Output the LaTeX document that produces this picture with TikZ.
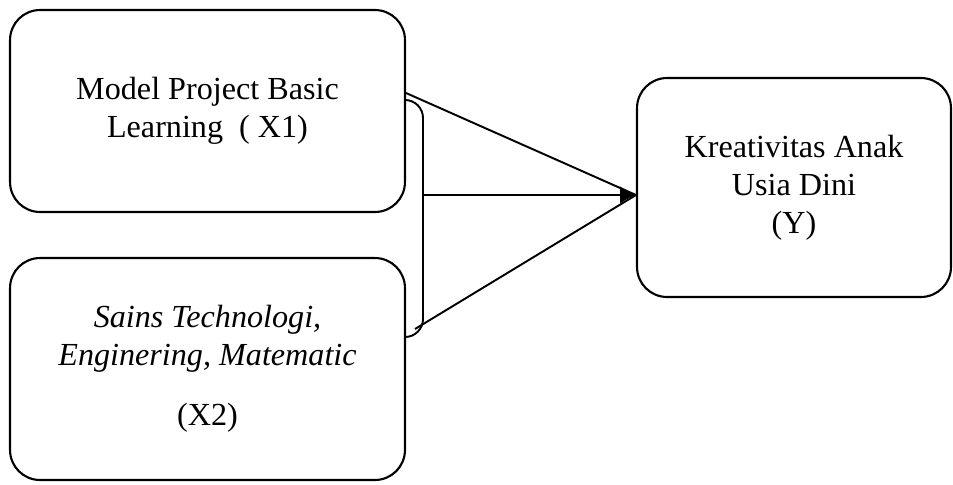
\documentclass[tikz,border=0pt]{standalone}
\usepackage{fontspec}
\setmainfont{Liberation Serif}
\usetikzlibrary{calc,arrows.meta}
\tikzset{
  var/.style={draw, line width=1.2pt, rounded corners=0.6cm, align=center,
    font=\fontsize{18.3}{21.5}\selectfont},
  link/.style={line width=1.1pt},
}

\begin{document}
\begin{tikzpicture}[x=0.02cm,y=-0.02cm]
  \useasboundingbox (0,0) rectangle (953,484);

  \node[var, minimum width=7.9cm, minimum height=4.04cm] (x1) at (207.5,111)
    {Model Project Basic\\Learning \ ( X1)};
  \node[var, minimum width=7.9cm, minimum height=4.44cm] (x2) at (207.5,369)
    {\textit{Sains Technologi,}\\\textit{Enginering, Matematic}\\[13pt](X2)};
  \node[var, minimum width=6.28cm, minimum height=4.38cm] (y) at (794,187.5)
    {Kreativitas Anak\\Usia Dini\\(Y)};

  % bracket joining X1 and X2
  \coordinate (tip) at ($(y.west)+(0,7.5)$);
  \coordinate (b1) at ($(x1.east)+(0,-11)$);
  \coordinate (b2) at (x1.east |- 0,337);
  \coordinate (mid) at (423,195);
  \draw[link, rounded corners=0.36cm] (b1) -- (423,100) -- (423,337) -- (b2);

  \draw[link] ($(x1.east)+(0,-18)$) -- (tip);
  \draw[link] (415,329) -- (tip);
  \draw[link, -{Latex[length=9pt,width=10pt]}] (mid) -- (tip);
\end{tikzpicture}
\end{document}
